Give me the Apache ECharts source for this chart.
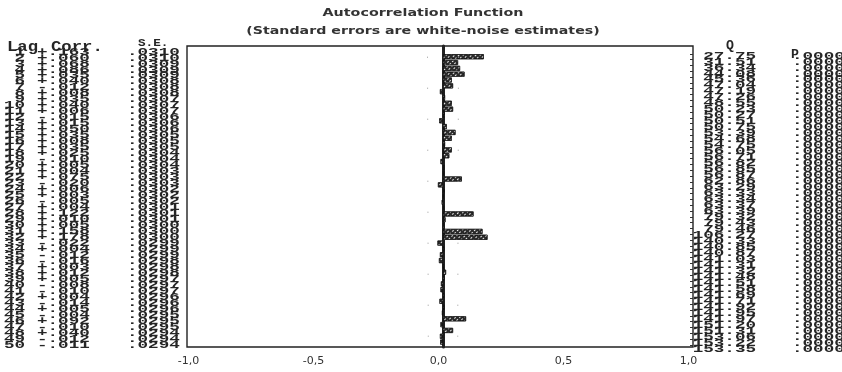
<!DOCTYPE html>
<html><head><meta charset="utf-8">
<script src="https://cdn.jsdelivr.net/npm/echarts@6/dist/echarts.min.js"></script>
<style>html,body{margin:0;padding:0;background:#fff}#c{width:842px;height:372px}</style>
</head><body><div id="c"></div>
<script>
const lags = [1,2,3,4,5,6,7,8,9,10,11,12,13,14,15,16,17,18,19,20,21,22,23,24,25,26,27,28,29,30,31,32,33,34,35,36,37,38,39,40,41,42,43,44,45,46,47,48,49,50];
const corr = [0.163,0.060,0.068,0.086,0.035,0.040,-0.012,0.008,0.035,0.040,0.006,-0.015,0.015,0.050,0.035,0.008,0.035,0.025,-0.010,0.005,0.004,0.075,-0.020,0.006,0.003,-0.005,0.004,0.122,0.010,0.005,0.158,0.178,-0.022,0.004,-0.012,-0.016,0.003,0.012,0.005,-0.008,-0.010,0.004,-0.014,0.005,-0.004,0.092,-0.010,0.040,-0.012,-0.011];
const stdErr = [0.0310,0.0310,0.0309,0.0309,0.0309,0.0308,0.0308,0.0308,0.0307,0.0307,0.0307,0.0306,0.0306,0.0306,0.0305,0.0305,0.0305,0.0304,0.0304,0.0304,0.0303,0.0303,0.0303,0.0302,0.0302,0.0302,0.0301,0.0301,0.0301,0.0300,0.0300,0.0300,0.0299,0.0299,0.0299,0.0298,0.0298,0.0298,0.0297,0.0297,0.0297,0.0296,0.0296,0.0296,0.0295,0.0295,0.0295,0.0294,0.0294,0.0294];
const boxLjung = [27.75,31.51,36.34,44.08,45.36,47.04,47.19,47.26,48.55,50.23,50.27,50.51,50.75,53.39,54.68,54.75,56.05,56.71,56.82,56.85,56.87,62.86,63.29,63.33,63.34,63.37,63.39,79.32,79.43,79.46,106.27,140.33,140.85,140.87,141.03,141.31,141.32,141.48,141.51,141.58,141.69,141.71,141.92,141.95,141.97,151.20,151.31,153.06,153.22,153.35];
const prob = [0,0,0,0,0,0,0,0,0,0,0,0,0,0,0,0,0,0,0,0,0,0,0,0,0,0,0,0,0,0,0,0,0,0,0,0,0,0,0,0,0,0,0,0,0,0,0,0,0,0];
const xTicks = [-1, -0.5, 0, 0.5, 1];
const titleText = 'Autocorrelation Function';
const subtitleText = '(Standard errors are white-noise estimates)';

const chart = echarts.init(document.getElementById('c'), null, {renderer: 'canvas'});

const MONO = '"Liberation Mono", "DejaVu Sans Mono", monospace';
const SY = 0.64, SX = 1.1, ROW = 5.98;
function fmtCorr(v){ return (v < 0 ? '-' : '+') + Math.abs(v).toFixed(3).replace(/^0/, ''); }
function fmtDec(v, d){ return v.toFixed(d).replace(/^0/, ''); }
function col(lines, x, y, align){
  return {type: 'text', x: x, y: y, scaleX: SX, scaleY: SY, silent: true,
    style: {text: lines.join('\n'), font: 'bold 16px ' + MONO, fill: '#262626',
      align: align, textAlign: align, verticalAlign: 'top', textVerticalAlign: 'top', lineHeight: ROW / SY}};
}
function head(t, x, y, size, sx){
  return {type: 'text', x: x, y: y, scaleX: sx, silent: true,
    style: {text: t, font: 'bold ' + size + 'px ' + MONO, fill: '#262626', align: 'left', textAlign: 'left', verticalAlign: 'top', textVerticalAlign: 'top'}};
}
const TOPROW = 49;
const graphics = [
  {type: 'text', x: 423, y: 8, scaleX: 1.30, silent: true,
   style: {text: titleText, font: 'bold 11px "DejaVu Sans"', fill: '#333', align: 'center', textAlign: 'center', verticalAlign: 'top', textVerticalAlign: 'top'}},
  {type: 'text', x: 423, y: 26, scaleX: 1.29, silent: true,
   style: {text: subtitleText, font: 'bold 11px "DejaVu Sans"', fill: '#333', align: 'center', textAlign: 'center', verticalAlign: 'top', textVerticalAlign: 'top'}},
  head('Lag', 7, 40, 15, 1.15),
  head('Corr.', 51, 40, 15, 1.15),
  head('S.E.', 138, 38, 11, 1.15),
  head('Q', 726, 40, 12, 1.1),
  head('P', 791, 49, 12, 1.1),
  col(lags.map(String), 25, TOPROW, 'right'),
  col(corr.map(fmtCorr), 37, TOPROW, 'left'),
  col(stdErr.map(v => fmtDec(v, 4)), 127, TOPROW, 'left'),
  col(boxLjung.map(v => v.toFixed(2)), 756, TOPROW + 4, 'right'),
  col(prob.map(v => fmtDec(v, 4)), 792, TOPROW + 4, 'left'),
  {type: 'rect', silent: true, shape: {x: 187, y: 46, width: 506, height: 301},
   style: {fill: 'none', stroke: '#222', lineWidth: 1.4}}
];

const option = {
  animation: false,
  backgroundColor: '#fff',
  grid: [
    {left: 193, right: 149, top: 53.8, bottom: 27},
    {left: 193, right: 149, top: 46, bottom: 25}
  ],
  xAxis: [
    {type: 'value', gridIndex: 0, min: -1, max: 1, show: false},
    {type: 'value', gridIndex: 1, min: -1, max: 1, interval: 0.5, position: 'bottom',
     axisLine: {show: false}, axisTick: {show: false}, splitLine: {show: false},
     axisLabel: {margin: 9, color: '#333', fontSize: 11, fontFamily: '"DejaVu Sans"', padding: [0, 9, 0, 0],
       formatter: v => (xTicks.indexOf(v) >= 0 ? v.toFixed(1).replace('.', ',') : '')}}
  ],
  yAxis: [
    {type: 'category', gridIndex: 0, data: lags, inverse: true, show: true,
     axisLine: {show: false}, axisTick: {show: false}, axisLabel: {show: false}, splitLine: {show: false}},
    {type: 'category', gridIndex: 0, data: lags, inverse: true, position: 'right',
     axisLine: {show: false}, axisLabel: {show: false},
     axisTick: {show: true, inside: true, length: 3, interval: 0, lineStyle: {color: '#333'}}},
    {type: 'value', gridIndex: 1, min: 0, max: 1,
     axisLine: {show: true, onZero: true, lineStyle: {color: '#222', width: 3}},
     axisTick: {show: false}, axisLabel: {show: false}, splitLine: {show: false}}
  ],
  series: [
    {type: 'bar', xAxisIndex: 0, yAxisIndex: 0, data: corr, barWidth: 5,
     itemStyle: {color: '#2a2a2a', borderColor: '#111', borderWidth: 0.6,
       decal: {symbol: 'rect', color: 'rgba(255,255,255,0.9)', dashArrayX: [2, 2], dashArrayY: [1, 2], rotation: -Math.PI / 4, symbolSize: 1}}},
    {type: 'line', xAxisIndex: 0, yAxisIndex: 0, data: stdErr.map(v => 2 * v), symbol: 'none',
     lineStyle: {color: '#999', width: 1, type: [1, 30]}},
    {type: 'line', xAxisIndex: 0, yAxisIndex: 0, data: stdErr.map(v => -2 * v), symbol: 'none',
     lineStyle: {color: '#999', width: 1, type: [1, 30]}}
  ],
  graphic: graphics
};
chart.setOption(option);
</script></body></html>
